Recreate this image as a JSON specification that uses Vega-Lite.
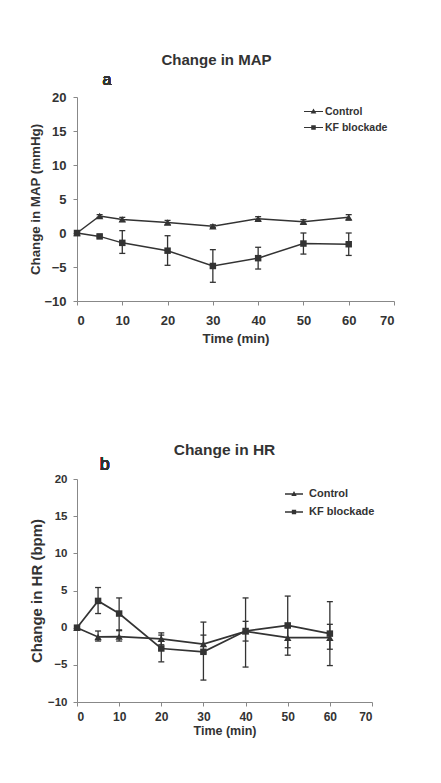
{
  "$schema": "https://vega.github.io/schema/vega-lite/v6.json",
  "padding": {"left": 28, "top": 53, "right": 5, "bottom": 5},
  "background": "white",
  "spacing": 98,
  "config": {
    "font": "Liberation Sans",
    "view": {"stroke": null},
    "title": {"font": "Liberation Sans", "fontWeight": "bold", "fontSize": 15, "color": "#333"},
    "axis": {
      "grid": false,
      "domainColor": "#888",
      "tickColor": "#888",
      "tickSize": 4,
      "labelOverlap": false,
      "labelFont": "Liberation Sans",
      "labelFontWeight": "bold",
      "labelFontSize": 13,
      "labelColor": "#333",
      "titleFont": "Liberation Sans",
      "titleFontWeight": "bold",
      "titleFontSize": 13.3,
      "titleColor": "#333"
    },
    "legend": {
      "labelFont": "Liberation Sans",
      "labelFontWeight": "bold",
      "labelFontSize": 10.5,
      "labelColor": "#333",
      "symbolOpacity": 1,
      "symbolSize": 361,
      "symbolStrokeWidth": 0,
      "rowPadding": 0,
      "labelOffset": 2
    }
  },
  "datasets": {
    "map": [
      {"time": 0, "group": "Control", "value": 0, "lo": 0, "hi": 0},
      {"time": 5, "group": "Control", "value": 2.5, "lo": 2.3, "hi": 2.7},
      {"time": 10, "group": "Control", "value": 2.0, "lo": 1.7, "hi": 2.3},
      {"time": 20, "group": "Control", "value": 1.55, "lo": 1.25, "hi": 1.85},
      {"time": 30, "group": "Control", "value": 1.0, "lo": 0.8, "hi": 1.2},
      {"time": 40, "group": "Control", "value": 2.1, "lo": 1.8, "hi": 2.4},
      {"time": 50, "group": "Control", "value": 1.65, "lo": 1.35, "hi": 1.95},
      {"time": 60, "group": "Control", "value": 2.3, "lo": 1.9, "hi": 2.7},
      {"time": 0, "group": "KF blockade", "value": 0, "lo": 0, "hi": 0},
      {"time": 5, "group": "KF blockade", "value": -0.5, "lo": -0.7, "hi": -0.3},
      {"time": 10, "group": "KF blockade", "value": -1.45, "lo": -3.0, "hi": 0.35},
      {"time": 20, "group": "KF blockade", "value": -2.6, "lo": -4.75, "hi": -0.4},
      {"time": 30, "group": "KF blockade", "value": -4.85, "lo": -7.25, "hi": -2.45},
      {"time": 40, "group": "KF blockade", "value": -3.7, "lo": -5.3, "hi": -2.1},
      {"time": 50, "group": "KF blockade", "value": -1.55, "lo": -3.1, "hi": 0},
      {"time": 60, "group": "KF blockade", "value": -1.65, "lo": -3.3, "hi": 0}
    ],
    "hr": [
      {"time": 0, "group": "Control", "value": 0, "lo": 0, "hi": 0},
      {"time": 5, "group": "Control", "value": -1.25, "lo": -1.8, "hi": -0.45},
      {"time": 10, "group": "Control", "value": -1.2, "lo": -1.8, "hi": -0.4},
      {"time": 20, "group": "Control", "value": -1.5, "lo": -2.3, "hi": -0.7},
      {"time": 30, "group": "Control", "value": -2.2, "lo": -3.4, "hi": -1.0},
      {"time": 40, "group": "Control", "value": -0.5, "lo": -1.8, "hi": 0.85},
      {"time": 50, "group": "Control", "value": -1.35, "lo": -2.7, "hi": 0},
      {"time": 60, "group": "Control", "value": -1.35, "lo": -2.9, "hi": 0.45},
      {"time": 0, "group": "KF blockade", "value": 0, "lo": 0, "hi": 0},
      {"time": 5, "group": "KF blockade", "value": 3.6, "lo": 1.9, "hi": 5.4},
      {"time": 10, "group": "KF blockade", "value": 1.9, "lo": -0.3, "hi": 4.0},
      {"time": 20, "group": "KF blockade", "value": -2.8, "lo": -4.6, "hi": -1.0},
      {"time": 30, "group": "KF blockade", "value": -3.25, "lo": -7.05, "hi": 0.75},
      {"time": 40, "group": "KF blockade", "value": -0.45, "lo": -5.3, "hi": 4.0},
      {"time": 50, "group": "KF blockade", "value": 0.3, "lo": -3.7, "hi": 4.25},
      {"time": 60, "group": "KF blockade", "value": -0.8, "lo": -5.1, "hi": 3.5}
    ]
  },
  "vconcat": [
    {
      "width": 317,
      "height": 204,
      "title": {"text": "Change in MAP", "offset": 4, "dx": -19},
      "data": {"name": "map"},
      "encoding": {
        "x": {"field": "time", "type": "quantitative", "scale": {"domain": [0, 70]},
              "axis": {"values": [0, 10, 20, 30, 40, 50, 60, 70], "title": "Time (min)", "labelPadding": 9, "titlePadding": 4}},
        "y": {"field": "value", "type": "quantitative", "scale": {"domain": [-10, 20]},
              "axis": {"values": [-10, -5, 0, 5, 10, 15, 20], "title": "Change in MAP (mmHg)", "titlePadding": 1, "labelPadding": 7}}
      },
      "layer": [
        {
          "mark": {"type": "line", "color": "#333", "strokeWidth": 1.5},
          "encoding": {"detail": {"field": "group"}}
        },
        {
          "mark": {"type": "rule", "color": "#333", "strokeWidth": 1.3},
          "encoding": {
            "y": {"field": "lo", "type": "quantitative",
                  "axis": {"values": [-10, -5, 0, 5, 10, 15, 20], "title": "Change in MAP (mmHg)", "titlePadding": 1, "labelPadding": 7}},
            "y2": {"field": "hi"}
          }
        },
        {
          "mark": {"type": "tick", "orient": "horizontal", "color": "#333", "size": 6, "thickness": 1.3, "opacity": 1},
          "encoding": {
            "y": {"field": "lo", "type": "quantitative",
                  "axis": {"values": [-10, -5, 0, 5, 10, 15, 20], "title": "Change in MAP (mmHg)", "titlePadding": 1, "labelPadding": 7}}
          }
        },
        {
          "mark": {"type": "tick", "orient": "horizontal", "color": "#333", "size": 6, "thickness": 1.3, "opacity": 1},
          "encoding": {
            "y": {"field": "hi", "type": "quantitative",
                  "axis": {"values": [-10, -5, 0, 5, 10, 15, 20], "title": "Change in MAP (mmHg)", "titlePadding": 1, "labelPadding": 7}}
          }
        },
        {
          "transform": [{"filter": "datum.group === 'Control'"}],
          "mark": {"type": "point", "shape": "triangle-up", "filled": true, "color": "#333", "opacity": 1, "size": 55}
        },
        {
          "transform": [{"filter": "datum.group === 'KF blockade'"}],
          "mark": {"type": "point", "shape": "square", "filled": true, "color": "#333", "opacity": 1, "size": 42}
        },
        {
          "mark": {"type": "point", "opacity": 0, "filled": true, "color": "#333"},
          "encoding": {
            "shape": {"field": "group", "type": "nominal",
                      "scale": {"domain": ["Control", "KF blockade"],
                                "range": ["M-1,-0.06L1,-0.06L1,0.06L-1,0.06ZM0,-0.32L0.3,0.22L-0.3,0.22Z", "M-1,-0.06L1,-0.06L1,0.06L-1,0.06ZM-0.24,-0.24L0.24,-0.24L0.24,0.24L-0.24,0.24Z"]},
                      "legend": {"title": null, "orient": "none", "legendX": 227, "legendY": 5, "rowPadding": 1,
                                 "encode": {"symbols": {"update": {"fill": {"value": "#333"}, "fillOpacity": {"value": 1}, "opacity": {"value": 1}, "strokeWidth": {"value": 0}}}}}}
          }
        },
        {
          "mark": {"type": "text", "fontSize": 16, "fontWeight": "normal", "color": "#333", "font": "Liberation Sans"},
          "encoding": {
            "x": {"datum": 6.6},
            "y": {"datum": 22.5},
            "text": {"value": "a"}
          }
        }
      ]
    },
    {
      "width": 295,
      "height": 223,
      "title": {"text": "Change in HR", "offset": -3, "fontSize": 15.5},
      "data": {"name": "hr"},
      "encoding": {
        "x": {"field": "time", "type": "quantitative", "scale": {"domain": [0, 70]},
              "axis": {"values": [0, 10, 20, 30, 40, 50, 60, 70], "title": "Time (min)", "labelPadding": 5, "titlePadding": 2, "titleFontSize": 12.5, "labelFontSize": 12}},
        "y": {"field": "value", "type": "quantitative", "scale": {"domain": [-10, 20]},
              "axis": {"values": [-10, -5, 0, 5, 10, 15, 20], "title": "Change in HR (bpm)", "titlePadding": 3, "titleFontSize": 15, "labelFontSize": 11.5, "labelPadding": 6}}
      },
      "layer": [
        {
          "mark": {"type": "line", "color": "#333", "strokeWidth": 1.7},
          "encoding": {"detail": {"field": "group"}}
        },
        {
          "mark": {"type": "rule", "color": "#333", "strokeWidth": 1.3},
          "encoding": {
            "y": {"field": "lo", "type": "quantitative",
                  "axis": {"values": [-10, -5, 0, 5, 10, 15, 20], "title": "Change in HR (bpm)", "titlePadding": 3, "titleFontSize": 15, "labelFontSize": 11.5, "labelPadding": 6}},
            "y2": {"field": "hi"}
          }
        },
        {
          "mark": {"type": "tick", "orient": "horizontal", "color": "#333", "size": 6, "thickness": 1.3, "opacity": 1},
          "encoding": {
            "y": {"field": "lo", "type": "quantitative",
                  "axis": {"values": [-10, -5, 0, 5, 10, 15, 20], "title": "Change in HR (bpm)", "titlePadding": 3, "titleFontSize": 15, "labelFontSize": 11.5, "labelPadding": 6}}
          }
        },
        {
          "mark": {"type": "tick", "orient": "horizontal", "color": "#333", "size": 6, "thickness": 1.3, "opacity": 1},
          "encoding": {
            "y": {"field": "hi", "type": "quantitative",
                  "axis": {"values": [-10, -5, 0, 5, 10, 15, 20], "title": "Change in HR (bpm)", "titlePadding": 3, "titleFontSize": 15, "labelFontSize": 11.5, "labelPadding": 6}}
          }
        },
        {
          "transform": [{"filter": "datum.group === 'Control'"}],
          "mark": {"type": "point", "shape": "triangle-up", "filled": true, "color": "#333", "opacity": 1, "size": 55}
        },
        {
          "transform": [{"filter": "datum.group === 'KF blockade'"}],
          "mark": {"type": "point", "shape": "square", "filled": true, "color": "#333", "opacity": 1, "size": 42}
        },
        {
          "mark": {"type": "point", "opacity": 0, "filled": true, "color": "#333"},
          "encoding": {
            "shape": {"field": "group", "type": "nominal",
                      "scale": {"domain": ["Control", "KF blockade"],
                                "range": ["M-1,-0.07L1,-0.07L1,0.07L-1,0.07ZM0,-0.32L0.3,0.22L-0.3,0.22Z", "M-1,-0.07L1,-0.07L1,0.07L-1,0.07ZM-0.24,-0.24L0.24,-0.24L0.24,0.24L-0.24,0.24Z"]},
                      "legend": {"title": null, "orient": "none", "legendX": 208, "legendY": 6, "labelFontSize": 11, "rowPadding": 4, "symbolSize": 324, "labelOffset": 6,
                                 "encode": {"symbols": {"update": {"fill": {"value": "#333"}, "fillOpacity": {"value": 1}, "opacity": {"value": 1}, "strokeWidth": {"value": 0}}}}}}
          }
        },
        {
          "mark": {"type": "text", "fontSize": 18, "fontWeight": "normal", "color": "#333", "font": "Liberation Sans"},
          "encoding": {
            "x": {"datum": 6.6},
            "y": {"datum": 21.9},
            "text": {"value": "b"}
          }
        }
      ]
    }
  ],
  "resolve": {"scale": {"x": "independent", "y": "independent", "shape": "independent"}, "legend": {"shape": "independent"}}
}
